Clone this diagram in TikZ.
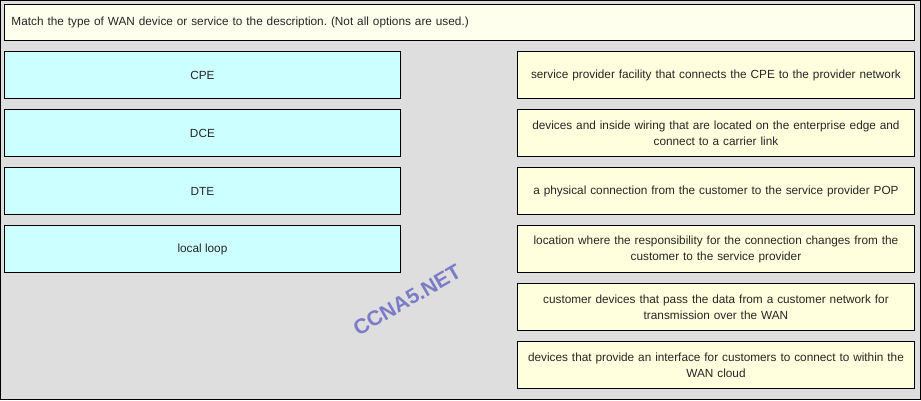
\documentclass[tikz,border=0pt]{standalone}
\usepackage{fontspec}
\setmainfont{Liberation Sans}
\begin{document}
\frenchspacing
\hyphenpenalty=10000
\exhyphenpenalty=10000
\begin{tikzpicture}[x=1pt,y=-1pt,
  txt/.style={font=\fontsize{11.8}{16}\selectfont, text=black!85},
  termbox/.style={txt, draw=black, line width=0.9pt, fill=termcol, minimum width=396pt, minimum height=47pt, anchor=north west, inner sep=0pt},
  descbox/.style={txt, draw=black, line width=0.9pt, fill=desccol, minimum width=397pt, minimum height=47pt, anchor=north west, inner sep=0pt, text width=392pt, align=center},
  titlebox/.style={txt, draw=black, line width=0.9pt, fill=titlecol, minimum width=910pt, minimum height=36pt, anchor=north west, inner sep=0pt, text width=896pt, align=left}
]
\definecolor{bgcol}{HTML}{DEDEDE}
\definecolor{termcol}{HTML}{CCFFFF}
\definecolor{desccol}{HTML}{FFFFDD}
\definecolor{titlecol}{HTML}{FFFFEE}
\definecolor{wmcol}{HTML}{7B7BC8}
\useasboundingbox (0,0) rectangle (921,400);
\fill[bgcol] (0,0) rectangle (921,400);
\draw[black, line width=1pt] (0.5,0.5) rectangle (920.5,399.5);
\node[titlebox] (title) at (4,4) {Match the type of WAN device or service to the description. (Not all options are used.)};
\node[termbox] (cpe) at (4,51) {CPE};
\node[termbox] (dce) at (4,109) {DCE};
\node[termbox] (dte) at (4,167) {DTE};
\node[termbox] (ll) at (4,225) {local loop};
\node[descbox] (d1) at (517,51) {service provider facility that connects the CPE to the provider network};
\node[descbox] (d2) at (517,109) {devices and inside wiring that are located on the enterprise edge and\\connect to a carrier link};
\node[descbox] (d3) at (517,167) {a physical connection from the customer to the service provider POP};
\node[descbox] (d4) at (517,225) {location where the responsibility for the connection changes from the\\customer to the service provider};
\node[descbox] (d5) at (517,283) {customer devices that pass the data from a customer network for\\transmission over the WAN};
\node[descbox] (d6) at (517,341) {devices that provide an interface for customers to connect to within the\\WAN cloud};
\node[font=\fontsize{21}{21}\bfseries\selectfont, text=wmcol, rotate=30, inner sep=0pt] (wm) at (407,300) {CCNA5.NET};
\end{tikzpicture}
\end{document}
